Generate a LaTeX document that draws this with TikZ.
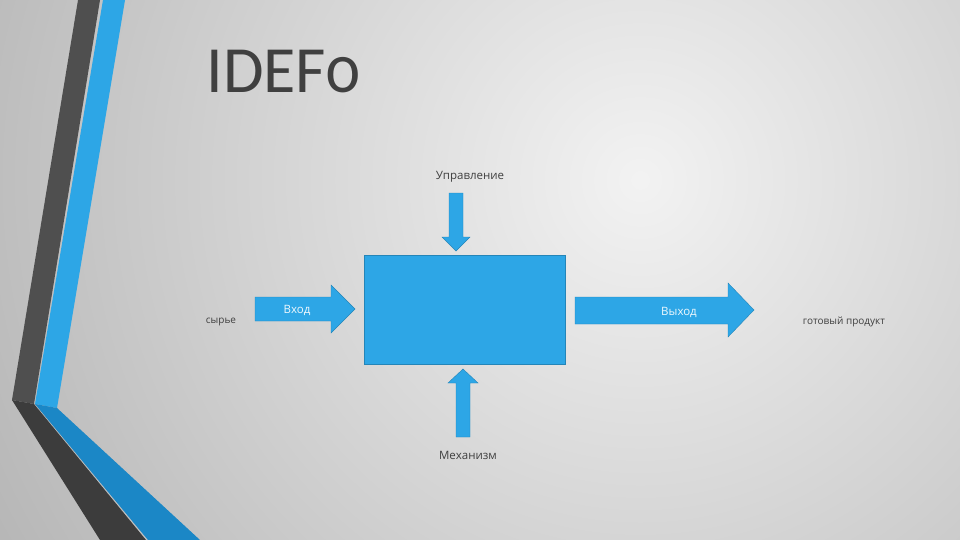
\documentclass[tikz,border=0pt]{standalone}
\usepackage{fontspec}
\setmainfont{Open Sans}
\newfontfamily\titlefont[Numbers=OldStyle]{Carlito}
\definecolor{sblue}{HTML}{2DA6E6}
\definecolor{sblueD}{HTML}{1B87C6}
\definecolor{sgray}{HTML}{4F4F4F}
\definecolor{sgrayD}{HTML}{3C3C3C}
\begin{document}
\begin{tikzpicture}[x=1pt,y=-1pt,
  arr/.style={fill=sblue,draw=sblue!80!black,line width=0.4pt},
  lbl/.style={font=\fontsize{11.5}{13}\selectfont,text=black!75},
  inl/.style={font=\fontsize{11.5}{13}\selectfont,text=white!92!sblue}]
\useasboundingbox (0,0) rectangle (960,540);
\begin{scope}
\clip (0,0) rectangle (960,540);
\shade[inner color=white!95!black, outer color=black!40] (640,180) circle (1100);
\end{scope}
% left decoration
\fill[sgray] (78,0)--(100,0)--(34,404)--(12,400)--cycle;
\fill[sgrayD] (12,400)--(34,404)--(146,540)--(100,540)--cycle;
\fill[sblue] (103,0)--(125,0)--(57,408)--(35,404)--cycle;
\fill[sblueD] (35,404)--(57,408)--(200,540)--(148,540)--cycle;
% title
\node[anchor=west,font=\titlefont\fontsize{66}{68}\selectfont,text=black!75] (title) at (203,72) {IDEF0};
% box
\node[draw=sblue!80!black,fill=sblue,minimum width=201,minimum height=109,inner sep=0,anchor=north west] (box) at (364,255) {};
% arrows
\fill[arr] (255,297)--(331,297)--(331,285)--(355,309)--(331,333)--(331,321)--(255,321)--cycle;
\node[inl] (vx) at (297,310) {Вход};
\fill[arr] (575,297)--(728,297)--(728,283)--(754,310)--(728,337)--(728,324)--(575,324)--cycle;
\node[inl] (vyx) at (679,312) {Выход};
\fill[arr] (449,193)--(463,193)--(463,237)--(470,237)--(456,251)--(442,237)--(449,237)--cycle;
\fill[arr] (456,437)--(470,437)--(470,383)--(478,383)--(463,369)--(448,383)--(456,383)--cycle;
% labels
\node[lbl] (upr) at (470,177) {Управление};
\node[lbl] (mex) at (468,455) {Механизм};
\node[lbl,font=\fontsize{10}{11}\selectfont] (syr) at (221,322) {сырье};
\node[lbl,font=\fontsize{10}{11}\selectfont] (gp) at (844,322) {готовый продукт};
\end{tikzpicture}
\end{document}
